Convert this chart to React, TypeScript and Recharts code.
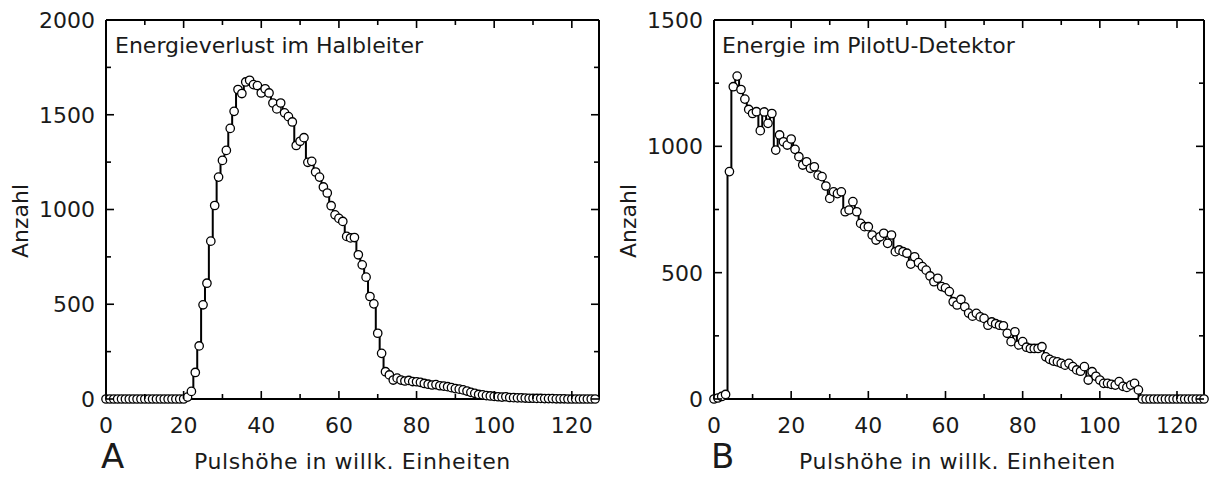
import React from 'react';
import { LineChart, Line, XAxis, YAxis } from 'recharts';

// ---- data ----
const channels: number[] = Array.from({ length: 128 }, (_, i) => i);

const halbleiterCounts: number[] = [
  0, 0, 0, 0, 0, 0, 0, 0, 0, 0, 0, 0, 0, 0, 0, 0, 0, 0, 0, 0, 0,
  10, 40, 140, 280, 497, 611, 833, 1021, 1171, 1259, 1312, 1428, 1518, 1633, 1612,
  1673, 1682, 1659, 1654, 1615, 1637, 1615, 1562, 1531, 1562, 1510, 1490, 1462, 1338,
  1360, 1379, 1249, 1254, 1198, 1171, 1119, 1087, 1020, 972, 953, 937, 858, 850, 852,
  761, 708, 643, 541, 502, 347, 241, 144, 127, 100, 110, 100, 95, 98, 92, 91, 88, 82,
  78, 74, 76, 70, 68, 65, 60, 55, 52, 48, 42, 35, 30, 24, 22, 18, 16, 14, 12, 10, 12,
  8, 7, 6, 6, 5, 4, 4, 3, 3, 2, 2, 2, 1, 1, 1, 0, 0, 0, 0, 0, 0, 0, 0,
];

const pilotCounts: number[] = [
  0, 4, 10, 18, 900, 1236, 1278, 1225, 1187, 1146, 1130, 1137, 1062, 1136, 1091,
  1130, 985, 1045, 1018, 1005, 1029, 988, 959, 926, 939, 913, 919, 886, 880, 843, 794,
  820, 813, 820, 741, 748, 781, 741, 695, 682, 682, 649, 629, 642, 656, 616, 649, 583,
  590, 583, 577, 534, 563, 540, 524, 510, 487, 464, 478, 445, 440, 425, 385, 372, 394,
  365, 340, 328, 339, 325, 319, 292, 305, 298, 292, 290, 260, 227, 266, 214, 227, 205,
  200, 200, 200, 207, 167, 157, 150, 147, 141, 134, 141, 128, 115, 110, 128, 75, 108,
  90, 75, 62, 62, 58, 55, 69, 50, 46, 55, 62, 36,
  0, 0, 0, 0, 0, 0, 0, 0, 0, 0, 0, 0, 0, 0, 0, 0, 0,
];

const xTicks: number[] = [0, 10, 20, 30, 40, 50, 60, 70, 80, 90, 100, 110, 120];
const xLabelStep = 20;
const leftYTicks: number[] = [0, 250, 500, 750, 1000, 1250, 1500, 1750, 2000];
const rightYTicks: number[] = [0, 250, 500, 750, 1000, 1250, 1500];
const yLabelStep = 500;

const FONT = '"DejaVu Sans", Verdana, sans-serif';
const TEXT = '#1a1a1a';

const BottomTick = (p: any) => {
  const { x, y, payload } = p;
  const v = payload.value;
  const major = v % xLabelStep === 0;
  return (
    <g>
      <line x1={x} y1={y} x2={x} y2={y - (major ? 8 : 5)} stroke="#000" strokeWidth={1.6} />
      {major && (
        <text x={x} y={y + 34} textAnchor="middle" fontSize={22} fontFamily={FONT} fill={TEXT}>
          {v}
        </text>
      )}
    </g>
  );
};

const TopTick = (p: any) => {
  const { x, y, payload } = p;
  const major = payload.value % xLabelStep === 0;
  return <line x1={x} y1={y} x2={x} y2={y + (major ? 8 : 5)} stroke="#000" strokeWidth={1.6} />;
};

const LeftTick = (p: any) => {
  const { x, y, payload } = p;
  const v = payload.value;
  const major = v % yLabelStep === 0;
  return (
    <g>
      <line x1={x} y1={y} x2={x + (major ? 8 : 5)} y2={y} stroke="#000" strokeWidth={1.6} />
      {major && (
        <text x={x - 11} y={y} dy="0.36em" textAnchor="end" fontSize={22} fontFamily={FONT} fill={TEXT}>
          {v}
        </text>
      )}
    </g>
  );
};

const RightTick = (p: any) => {
  const { x, y, payload } = p;
  const major = payload.value % yLabelStep === 0;
  return <line x1={x} y1={y} x2={x - (major ? 8 : 5)} y2={y} stroke="#000" strokeWidth={1.6} />;
};

const Dot = (p: any) => {
  const { cx, cy, index } = p;
  if (cx == null || cy == null) return <g key={index} />;
  return <circle key={index} cx={cx} cy={cy} r={4.2} fill="#fff" stroke="#000" strokeWidth={1.3} />;
};

const axisLine = { stroke: '#000', strokeWidth: 2 };

function Panel(props: { values: number[]; yMax: number; yTicks: number[]; yAxisWidth: number }) {
  const data = channels.map((c, i) => ({ x: c, y: props.values[i] }));
  return (
    <LineChart width={605} height={479} data={data} margin={{ top: 19, right: 5, bottom: 0, left: 0 }}>
      <XAxis
        dataKey="x"
        type="number"
        domain={[0, 127]}
        ticks={xTicks}
        interval={0}
        height={80}
        tickSize={0}
        tickMargin={0}
        axisLine={axisLine}
        tickLine={false}
        tick={BottomTick}
      />
      <XAxis
        xAxisId="top"
        orientation="top"
        dataKey="x"
        type="number"
        domain={[0, 127]}
        ticks={xTicks}
        interval={0}
        height={1}
        tickSize={0}
        tickMargin={0}
        axisLine={axisLine}
        tickLine={false}
        tick={TopTick}
        allowDataOverflow
      />
      <YAxis
        type="number"
        domain={[0, props.yMax]}
        ticks={props.yTicks}
        interval={0}
        width={props.yAxisWidth}
        tickSize={0}
        tickMargin={0}
        axisLine={axisLine}
        tickLine={false}
        tick={LeftTick}
      />
      <YAxis
        yAxisId="right"
        orientation="right"
        type="number"
        domain={[0, props.yMax]}
        ticks={props.yTicks}
        interval={0}
        width={1}
        tickSize={0}
        tickMargin={0}
        axisLine={axisLine}
        tickLine={false}
        tick={RightTick}
        allowDataOverflow
      />
      <Line
        type="step"
        dataKey="y"
        stroke="#000"
        strokeWidth={2}
        dot={Dot}
        activeDot={false}
        isAnimationActive={false}
      />
    </LineChart>
  );
}

export default function App() {
  return (
    <div style={{ position: 'absolute', left: 0, top: 0, width: 1210, height: 479, background: '#fff', overflow: 'hidden' }}>
      <div style={{ position: 'absolute', left: 0, top: 0 }}>
        <Panel values={halbleiterCounts} yMax={2000} yTicks={leftYTicks} yAxisWidth={106} />
      </div>
      <div style={{ position: 'absolute', left: 605, top: 0 }}>
        <Panel values={pilotCounts} yMax={1500} yTicks={rightYTicks} yAxisWidth={109} />
      </div>
      <svg width={1210} height={479} style={{ position: 'absolute', left: 0, top: 0, pointerEvents: 'none' }}>
        <g fontFamily={FONT} fill={TEXT}>
          <text x={115} y={53} fontSize={22}>Energieverlust im Halbleiter</text>
          <text x={722} y={53} fontSize={22}>Energie im PilotU-Detektor</text>
          <text transform="translate(28, 221) rotate(-90)" textAnchor="middle" fontSize={22}>Anzahl</text>
          <text transform="translate(636, 221) rotate(-90)" textAnchor="middle" fontSize={22}>Anzahl</text>
          <text x={194} y={469} fontSize={22} letterSpacing={0.6}>Pulshöhe in willk. Einheiten</text>
          <text x={799} y={469} fontSize={22} letterSpacing={0.6}>Pulshöhe in willk. Einheiten</text>
          <text x={101} y={468} fontSize={34}>A</text>
          <text x={711} y={468} fontSize={34}>B</text>
        </g>
      </svg>
    </div>
  );
}
